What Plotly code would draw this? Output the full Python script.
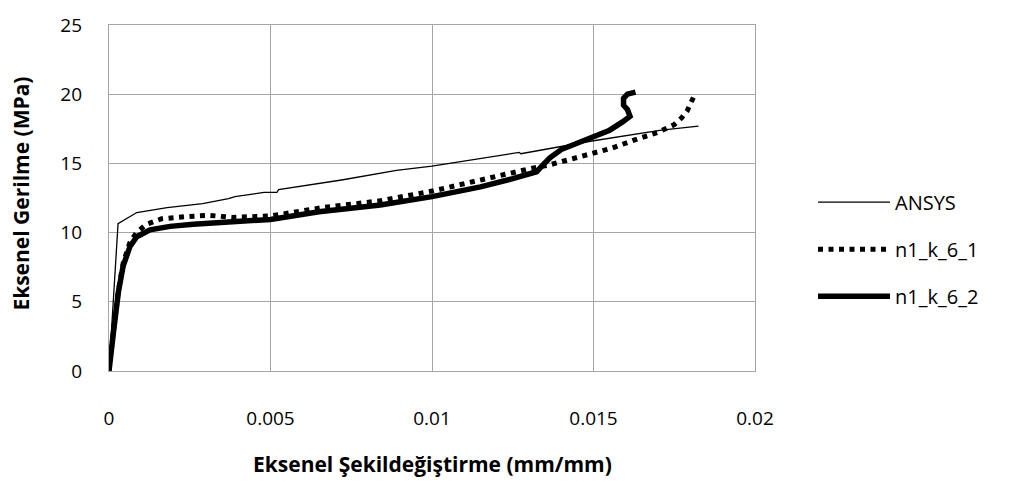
import plotly.graph_objects as go

# Stress-strain curves: ANSYS model vs. two test specimens
ansys_strain = [0, 0.00028, 0.00086, 0.0018, 0.0029, 0.0037, 0.0039, 0.0048, 0.0052, 0.00525,
                0.0072, 0.0089, 0.0100, 0.0108, 0.0120, 0.0127, 0.01275, 0.0149, 0.0171, 0.01825]
ansys_stress = [0, 10.65, 11.45, 11.8, 12.1, 12.45, 12.6, 12.9, 12.9, 13.1,
                13.8, 14.5, 14.8, 15.1, 15.55, 15.8, 15.7, 16.6, 17.4, 17.7]

s1_strain = [0, 0.00005, 0.00013, 0.00029, 0.00044, 0.00065, 0.00085, 0.00116, 0.00163, 0.00235,
             0.0031, 0.0038, 0.005, 0.0066, 0.0084, 0.0100, 0.0117, 0.0130, 0.01365, 0.0146,
             0.01556, 0.0164, 0.0170, 0.0175, 0.01773, 0.0179, 0.01802, 0.0181]
s1_stress = [0, 1.2, 2.8, 5.8, 7.8, 9.3, 10.0, 10.6, 11.0, 11.15,
             11.25, 11.1, 11.2, 11.8, 12.3, 13.0, 13.95, 14.6, 14.9, 15.5,
             16.1, 16.8, 17.25, 17.8, 18.3, 18.8, 19.3, 19.8]

s2_strain = [0, 0.00005, 0.00013, 0.00029, 0.00044, 0.00065, 0.00086, 0.00127, 0.00189, 0.00261,
             0.0035, 0.005, 0.0065, 0.0084, 0.0100, 0.0115, 0.0125, 0.01324, 0.0134, 0.01365,
             0.0140, 0.0149, 0.0155, 0.0159, 0.01613, 0.01605, 0.01593, 0.01593, 0.01605, 0.0163]
s2_stress = [0, 1.2, 2.65, 5.7, 7.6, 9.0, 9.7, 10.2, 10.45, 10.6,
             10.75, 10.95, 11.5, 12.0, 12.6, 13.3, 13.9, 14.4, 14.8, 15.4,
             16.0, 16.85, 17.4, 18.0, 18.4, 18.9, 19.2, 19.7, 20.0, 20.15]

x_ticks = [0, 0.005, 0.01, 0.015, 0.02]
x_tick_text = ["0", "0.005", "0.01", "0.015", "0.02"]
y_ticks = [0, 5, 10, 15, 20, 25]

x_title = "Eksenel Şekildeğiştirme (mm/mm)"
y_title = "Eksenel Gerilme (MPa)"

FONT = "Open Sans"
GRID = "#a6a6a6"
PLOT_W = 1013 - 109 - 258
PLOT_H = 486 - 16 - 115

fig = go.Figure()
fig.add_trace(go.Scatter(x=ansys_strain, y=ansys_stress, mode="lines", name="ANSYS",
                         legendgroup="a", line=dict(color="black", width=1.3)))
fig.add_trace(go.Scatter(x=s1_strain, y=s1_stress, mode="lines", name="n1_k_6_1",
                         legendgroup="b", line=dict(color="black", width=5, dash="5px,5.5px")))
fig.add_trace(go.Scatter(x=s2_strain, y=s2_stress, mode="lines", name="n1_k_6_2",
                         legendgroup="c", line=dict(color="black", width=5.5)))

fig.update_layout(
    width=1013, height=486,
    margin=dict(l=109, r=258, t=16, b=115),
    paper_bgcolor="white", plot_bgcolor="white",
    font=dict(family=FONT, size=19, color="black"),
    showlegend=True,
    legend=dict(x=(818 - 5 - 109) / PLOT_W, y=(371 - 246) / PLOT_H,
                xanchor="left", yanchor="middle",
                traceorder="grouped", tracegroupgap=18,
                font=dict(family=FONT, size=20, color="black"),
                itemwidth=72, bgcolor="rgba(0,0,0,0)"),
    annotations=[
        dict(text=f"<b>{x_title}</b>", xref="paper", yref="paper",
             x=0.5, y=-(466 - 371) / PLOT_H, xanchor="center", yanchor="middle",
             showarrow=False, font=dict(family=FONT, size=21, color="black")),
        dict(text=f"<b>{y_title}</b>", xref="paper", yref="paper",
             x=-(109 - 21) / PLOT_W, y=(371 - 189) / PLOT_H, xanchor="center", yanchor="middle",
             textangle=-90, showarrow=False,
             font=dict(family=FONT, size=21, color="black")),
    ],
)
fig.update_xaxes(range=[0, 0.02], tickvals=x_ticks, ticktext=x_tick_text,
                 showgrid=True, gridcolor=GRID, gridwidth=1.3,
                 showline=True, linecolor=GRID, linewidth=1.3, mirror=True,
                 zeroline=False, ticks="", ticklen=0, ticklabelstandoff=30,
                 tickfont=dict(family=FONT, size=19))
fig.update_yaxes(range=[0, 25], tickvals=y_ticks,
                 showgrid=True, gridcolor=GRID, gridwidth=1.3,
                 showline=True, linecolor=GRID, linewidth=1.3, mirror=True,
                 zeroline=False, ticks="", ticklen=0, ticklabelstandoff=22,
                 tickfont=dict(family=FONT, size=19))

fig.write_html("out.html")
